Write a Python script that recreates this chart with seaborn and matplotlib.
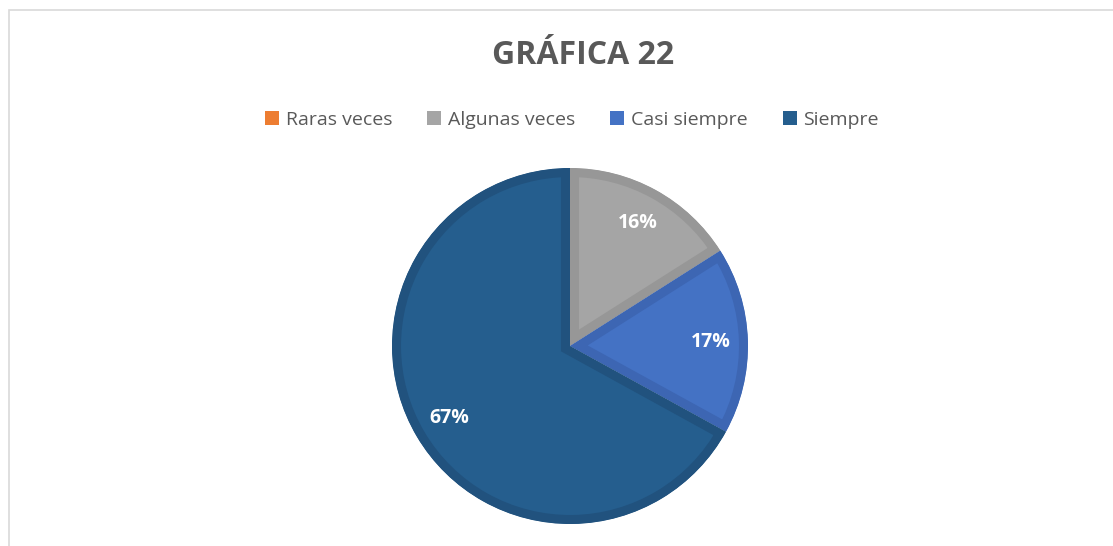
import matplotlib
matplotlib.use("Agg")
import matplotlib.pyplot as plt
import matplotlib.patches as mpatches
import seaborn as sns

# datos de la gráfica
categorias = ["Raras veces", "Algunas veces", "Casi siempre", "Siempre"]
valores = [0, 16, 17, 67]
colores = ["#ED7D31", "#A5A5A5", "#4472C4", "#255E8E"]
bordes = ["#D06A28", "#979797", "#3D66B3", "#21527E"]
titulo = "GRÁFICA 22"

sns.set_theme(style="white")
plt.rcParams["font.family"] = ["Open Sans", "DejaVu Sans"]

W, H = 1113, 546
fig = plt.figure(figsize=(W / 100, H / 100), dpi=100)

# marco gris claro del área del gráfico
fig.patches.append(mpatches.Rectangle((9 / W, -0.1), 1.2, (H - 10) / H + 0.1,
                                      transform=fig.transFigure, fill=False,
                                      edgecolor="#D9D9D9", linewidth=1.2))

# ejes del pastel: centro (570, 346), radio 178 px
cx, cy, r = 570, 346, 178
ax = fig.add_axes([(cx - r) / W, (H - cy - r) / H, 2 * r / W, 2 * r / H])


def etiqueta(p):
    return "" if p < 0.5 else f"{p:.0f}%"


wedges, textos, autotextos = ax.pie(valores, colors=colores, startangle=90,
                                    counterclock=False, autopct=etiqueta,
                                    pctdistance=0.79, radius=1,
                                    wedgeprops=dict(linewidth=0))
# borde interior más oscuro en cada porción
for w, b in zip(wedges, bordes):
    w.set_edgecolor(b)
    w.set_linewidth(13)
    w.set_clip_path(w)
    w.set_clip_on(True)
for t in autotextos:
    t.set_color("white")
    t.set_fontweight("bold")
    t.set_fontsize(14)
ax.set_xlim(-1, 1)
ax.set_ylim(-1, 1)
ax.set_aspect("equal")
ax.axis("off")

fig.text(583 / W, 1 - 56 / H, titulo, ha="center", va="center",
         fontsize=23, fontweight="bold", color="#595959")

handles = [mpatches.Patch(facecolor=c, edgecolor="none", label=l)
           for c, l in zip(colores, categorias)]
fig.legend(handles=handles, loc="center", bbox_to_anchor=(572 / W, 1 - 120 / H),
           ncol=4, frameon=False, fontsize=14, handlelength=0.72,
           handleheight=0.72, handletextpad=0.35, columnspacing=1.8,
           labelcolor="#595959")

fig.savefig("out.png", dpi=100)
